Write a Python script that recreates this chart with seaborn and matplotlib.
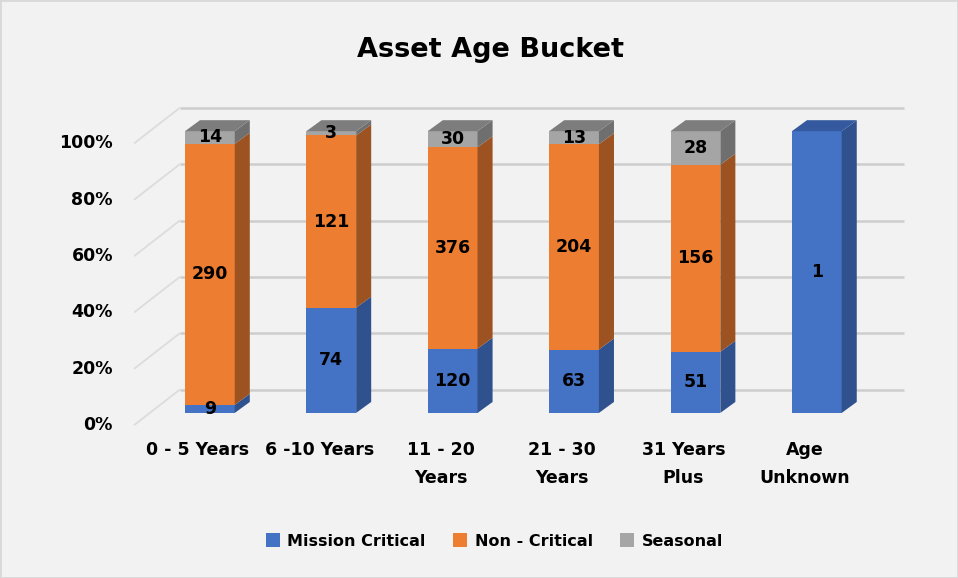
import matplotlib
matplotlib.use('Agg')
import matplotlib.pyplot as plt
import matplotlib.transforms as mtransforms
from matplotlib.patches import Polygon, Patch, Rectangle
import pandas as pd
import seaborn as sns

# data
buckets = ['0 - 5 Years', '6 -10 Years', '11 - 20\nYears', '21 - 30\nYears', '31 Years\nPlus', 'Age\nUnknown']
mission_critical = [9, 74, 120, 63, 51, 1]
non_critical = [290, 121, 376, 204, 156, 0]
seasonal = [14, 3, 30, 13, 28, 0]
series_names = ['Mission Critical', 'Non - Critical', 'Seasonal']
y_ticks = [0, 20, 40, 60, 80, 100]

face_colors = ['#4472c4', '#ed7d31', '#a5a5a5']
side_colors = ['#2f528f', '#9c5221', '#6f6f6f']
top_colors = ['#34599e', '#c8652a', '#7d7d7d']

counts = pd.DataFrame({'Mission Critical': mission_critical,
                       'Non - Critical': non_critical,
                       'Seasonal': seasonal}, index=buckets)
pct = counts.div(counts.sum(axis=1), axis=0) * 100
tops = pct.cumsum(axis=1)
bottoms = tops - pct

sns.set_theme(style='white', rc={'text.color': 'black', 'xtick.color': 'black',
                                 'ytick.color': 'black', 'axes.labelcolor': 'black'})
plt.rcParams['font.family'] = ['DejaVu Sans']

fig = plt.figure(figsize=(9.58, 5.78), dpi=100, facecolor='#f2f2f2')
ax = fig.add_axes([0.1367, 0.2612, 0.8173, 0.5606])
ax.set_facecolor('none')

bar_w = 0.41
dx, dy = 0.124, 3.9      # bar depth
wall_x, back_x, end_x = -0.62, -0.25, 5.72
back_dy, front_dy = 8.2, -4.2

# back wall and side wall gridlines
for v in y_ticks:
    ax.plot([back_x, end_x], [v + back_dy, v + back_dy], color='#cdcdcd', lw=1.8, zorder=0,
            solid_capstyle='butt')
    ax.plot([wall_x, back_x], [v + front_dy, v + back_dy], color='#dcdcdc', lw=1.3, zorder=0)

# stacked front faces: draw cumulative tops from highest layer down
for k in reversed(range(len(series_names))):
    name = series_names[k]
    sns.barplot(x=buckets, y=tops[name].values, order=buckets, color=face_colors[k],
                saturation=1, width=bar_w, ax=ax, zorder=2, linewidth=0)

# side and top faces, value labels
for i, b in enumerate(buckets):
    x0, x1 = i - bar_w / 2, i + bar_w / 2
    top_k = None
    for k, name in enumerate(series_names):
        lo, hi = bottoms.loc[b, name], tops.loc[b, name]
        if pct.loc[b, name] <= 0:
            continue
        top_k = k
        ax.add_patch(Polygon([(x1, lo), (x1 + dx, lo + dy), (x1 + dx, hi + dy), (x1, hi)],
                             closed=True, facecolor=side_colors[k], edgecolor='none', zorder=2))
        ax.text(i, (lo + hi) / 2, str(counts.loc[b, name]), ha='center', va='center',
                fontsize=12.5, fontweight='bold', color='black', zorder=5)
    hi = tops.loc[b, series_names[top_k]]
    ax.add_patch(Polygon([(x0, hi), (x0 + dx, hi + dy), (x1 + dx, hi + dy), (x1, hi)],
                         closed=True, facecolor=top_colors[top_k], edgecolor='none', zorder=2))

ax.set_xlim(-0.65, 5.8)
ax.set_ylim(-5, 110)
ax.set_xlabel('')
ax.set_ylabel('')
ax.set_xticks(range(len(buckets)), buckets)
ax.set_yticks(y_ticks, [f'{v}%' for v in y_ticks])
ax.tick_params(axis='x', length=0, pad=10, labelsize=12.5, labelcolor='black')
ax.tick_params(axis='y', length=0, pad=13, labelsize=12.5, labelcolor='black')
for lab in ax.get_xticklabels():
    lab.set_fontweight('bold')
    lab.set_linespacing(1.7)
    lab.set_transform(lab.get_transform() + mtransforms.ScaledTranslation(-0.12, 0, fig.dpi_scale_trans))
for lab in ax.get_yticklabels():
    lab.set_fontweight('bold')
    lab.set_transform(lab.get_transform() + mtransforms.ScaledTranslation(0, -0.10, fig.dpi_scale_trans))
sns.despine(ax=ax, left=True, bottom=True)

fig.text(0.5125, 1 - 50 / 578, 'Asset Age Bucket', ha='center', va='center',
         fontsize=19.5, fontweight='bold', color='black')

handles = [Patch(facecolor=c, edgecolor='none', label=n) for c, n in zip(face_colors, series_names)]
leg = fig.legend(handles=handles, loc='center', bbox_to_anchor=(0.516, 1 - 541 / 578), ncol=3,
                 frameon=False, prop={'weight': 'bold', 'size': 11.5}, handlelength=0.9,
                 handleheight=0.9, handletextpad=0.45, columnspacing=1.7)
for t in leg.get_texts():
    t.set_color('black')

fig.patches.append(Rectangle((0, 0), 1, 1, transform=fig.transFigure, fill=False,
                             edgecolor='#d9d9d9', lw=2))

fig.savefig('out.png', dpi=100, facecolor=fig.get_facecolor())
